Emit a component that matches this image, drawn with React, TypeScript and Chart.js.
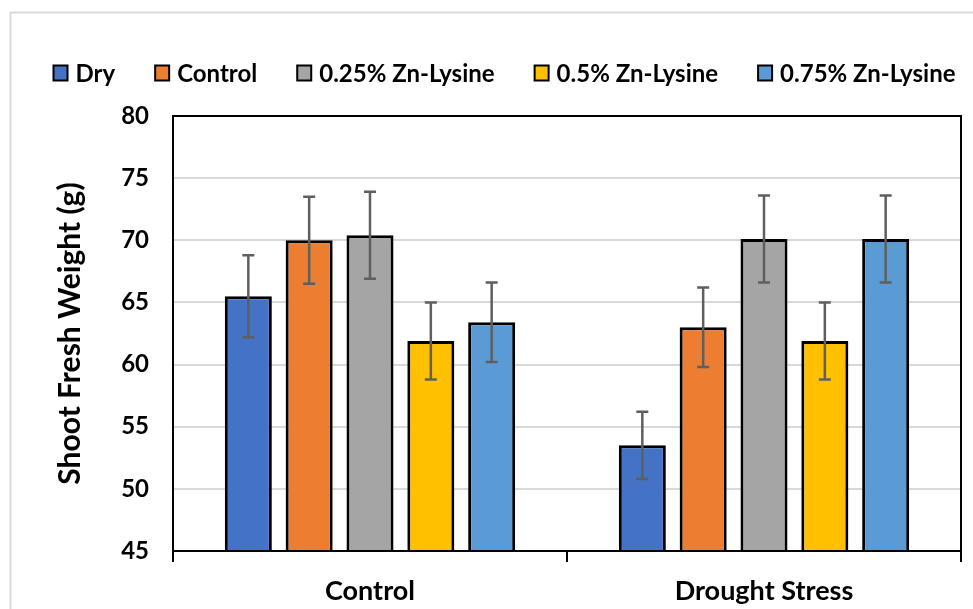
import React, { useEffect, useRef } from "react";
import { Chart, registerables } from "chart.js";

Chart.register(...registerables);

// Treatment groups on the x axis
const groups = ["Control", "Drought Stress"];

// Series names (legend order)
const seriesNames = ["Dry", "Control", "0.25% Zn-Lysine", "0.5% Zn-Lysine", "0.75% Zn-Lysine"];

// Mean shoot fresh weight (g) per group
const dryValues = [65.5, 53.5];
const controlValues = [70.0, 63.0];
const zn025Values = [70.4, 70.1];
const zn05Values = [61.9, 61.9];
const zn075Values = [63.4, 70.1];

// Error bar half-lengths (g)
const dryErrors = [3.3, 2.7];
const controlErrors = [3.5, 3.2];
const zn025Errors = [3.5, 3.5];
const zn05Errors = [3.1, 3.1];
const zn075Errors = [3.2, 3.5];

// Y axis tick values
const yTicks = [45, 50, 55, 60, 65, 70, 75, 80];

const palette = ["#4472C4", "#ED7D31", "#A5A5A5", "#FFC000", "#5B9BD5"];
const FONT = "Lato";

// Light grey outer frame around the whole chart
const framePlugin = {
  id: "outerFrame",
  beforeDraw(chart: any) {
    const { ctx, width, height } = chart;
    ctx.save();
    ctx.fillStyle = "#ffffff";
    ctx.fillRect(0, 0, width, height);
    ctx.strokeStyle = "#d9d9d9";
    ctx.lineWidth = 2;
    ctx.beginPath();
    ctx.moveTo(10.5, height);
    ctx.lineTo(10.5, 12.5);
    ctx.lineTo(width, 12.5);
    ctx.stroke();
    ctx.restore();
  },
};

// Black border around the plot area
const plotBorderPlugin = {
  id: "plotBorder",
  afterDatasetsDraw(chart: any) {
    const { ctx, chartArea } = chart;
    ctx.save();
    ctx.strokeStyle = "#000000";
    ctx.lineWidth = 2;
    ctx.strokeRect(chartArea.left, chartArea.top, chartArea.right - chartArea.left, chartArea.bottom - chartArea.top);
    ctx.restore();
  },
};

// Symmetric error bars drawn from each dataset's `errors` array
const errorBarPlugin = {
  id: "errorBars",
  afterDatasetsDraw(chart: any) {
    const { ctx } = chart;
    const yScale = chart.scales.y;
    chart.data.datasets.forEach((ds: any, i: number) => {
      const meta = chart.getDatasetMeta(i);
      meta.data.forEach((bar: any, j: number) => {
        const v = ds.data[j];
        const e = ds.errors[j];
        const x = bar.x;
        const yTop = yScale.getPixelForValue(v + e);
        const yBot = yScale.getPixelForValue(v - e);
        ctx.save();
        ctx.strokeStyle = "#5f5f5f";
        ctx.lineWidth = 2.5;
        ctx.beginPath();
        ctx.moveTo(x, yTop);
        ctx.lineTo(x, yBot);
        ctx.moveTo(x - 6, yTop);
        ctx.lineTo(x + 6, yTop);
        ctx.moveTo(x - 6, yBot);
        ctx.lineTo(x + 6, yBot);
        ctx.stroke();
        ctx.restore();
      });
    });
  },
};

// Single-row legend above the plot
const legendPlugin = {
  id: "topLegend",
  afterDraw(chart: any) {
    const { ctx } = chart;
    const boxW = 14;
    const boxH = 15;
    const textGap = 8;
    const itemGap = 40;
    const cy = 73;
    ctx.save();
    ctx.font = `bold 24px ${FONT}`;
    ctx.textBaseline = "middle";
    ctx.textAlign = "left";
    const items = chart.data.datasets.map((ds: any) => ({
      label: ds.label as string,
      color: ds.backgroundColor as string,
      w: ctx.measureText(ds.label).width,
    }));
    const total =
      items.reduce((s: number, it: any) => s + boxW + textGap + it.w, 0) + itemGap * (items.length - 1);
    let x = 504.5 - total / 2;
    items.forEach((it: any) => {
      ctx.fillStyle = it.color;
      ctx.fillRect(x, cy - boxH / 2, boxW, boxH);
      ctx.strokeStyle = "#000000";
      ctx.lineWidth = 2;
      ctx.strokeRect(x, cy - boxH / 2, boxW, boxH);
      ctx.fillStyle = "#000000";
      ctx.fillText(it.label, x + boxW + textGap, cy + 1);
      x += boxW + textGap + it.w + itemGap;
    });
    ctx.restore();
  },
};

export default function App() {
  const canvasRef = useRef<HTMLCanvasElement | null>(null);

  useEffect(() => {
    if (!canvasRef.current) return;
    const values = [dryValues, controlValues, zn025Values, zn05Values, zn075Values];
    const errors = [dryErrors, controlErrors, zn025Errors, zn05Errors, zn075Errors];

    const chart = new Chart(canvasRef.current, {
      type: "bar",
      data: {
        labels: groups,
        datasets: seriesNames.map((name, i) => ({
          label: name,
          data: values[i],
          errors: errors[i],
          backgroundColor: palette[i],
          borderColor: "#000000",
          borderWidth: 3,
          borderSkipped: false,
          categoryPercentage: 0.772,
          barPercentage: 0.773,
        })) as any,
      },
      options: {
        animation: false,
        responsive: false,
        devicePixelRatio: 1,
        layout: { padding: { top: 116, left: 0, right: 12, bottom: 0 } },
        plugins: {
          legend: { display: false },
          tooltip: { enabled: false },
        },
        scales: {
          x: {
            grid: {
              offset: true,
              drawOnChartArea: false,
              drawTicks: true,
              tickLength: 11,
              color: "#000000",
              lineWidth: 2,
            },
            border: { display: false },
            ticks: {
              color: "#000000",
              font: { family: FONT, size: 27, weight: "bold" },
              padding: 13,
            },
            afterFit: (scale: any) => {
              scale.height = 58;
            },
          },
          y: {
            min: 45,
            max: 80,
            afterBuildTicks: (scale: any) => {
              scale.ticks = yTicks.map((v) => ({ value: v }));
            },
            grid: {
              color: "#d9d9d9",
              lineWidth: 2,
              drawTicks: false,
            },
            border: { display: false },
            ticks: {
              color: "#000000",
              font: { family: FONT, size: 24, weight: "bold" },
              padding: 24,
            },
            title: {
              display: true,
              text: "Shoot Fresh Weight (g)",
              color: "#000000",
              font: { family: FONT, size: 30, weight: "bold" },
              padding: { top: 52, bottom: 0 },
            },
            afterFit: (scale: any) => {
              scale.width = 173;
            },
          },
        },
      },
      plugins: [framePlugin, plotBorderPlugin, errorBarPlugin, legendPlugin],
    });

    return () => chart.destroy();
  }, []);

  return (
    <div style={{ position: "absolute", left: 0, top: 0, width: 973, height: 609, background: "#fff" }}>
      <canvas ref={canvasRef} width={973} height={609} />
    </div>
  );
}
